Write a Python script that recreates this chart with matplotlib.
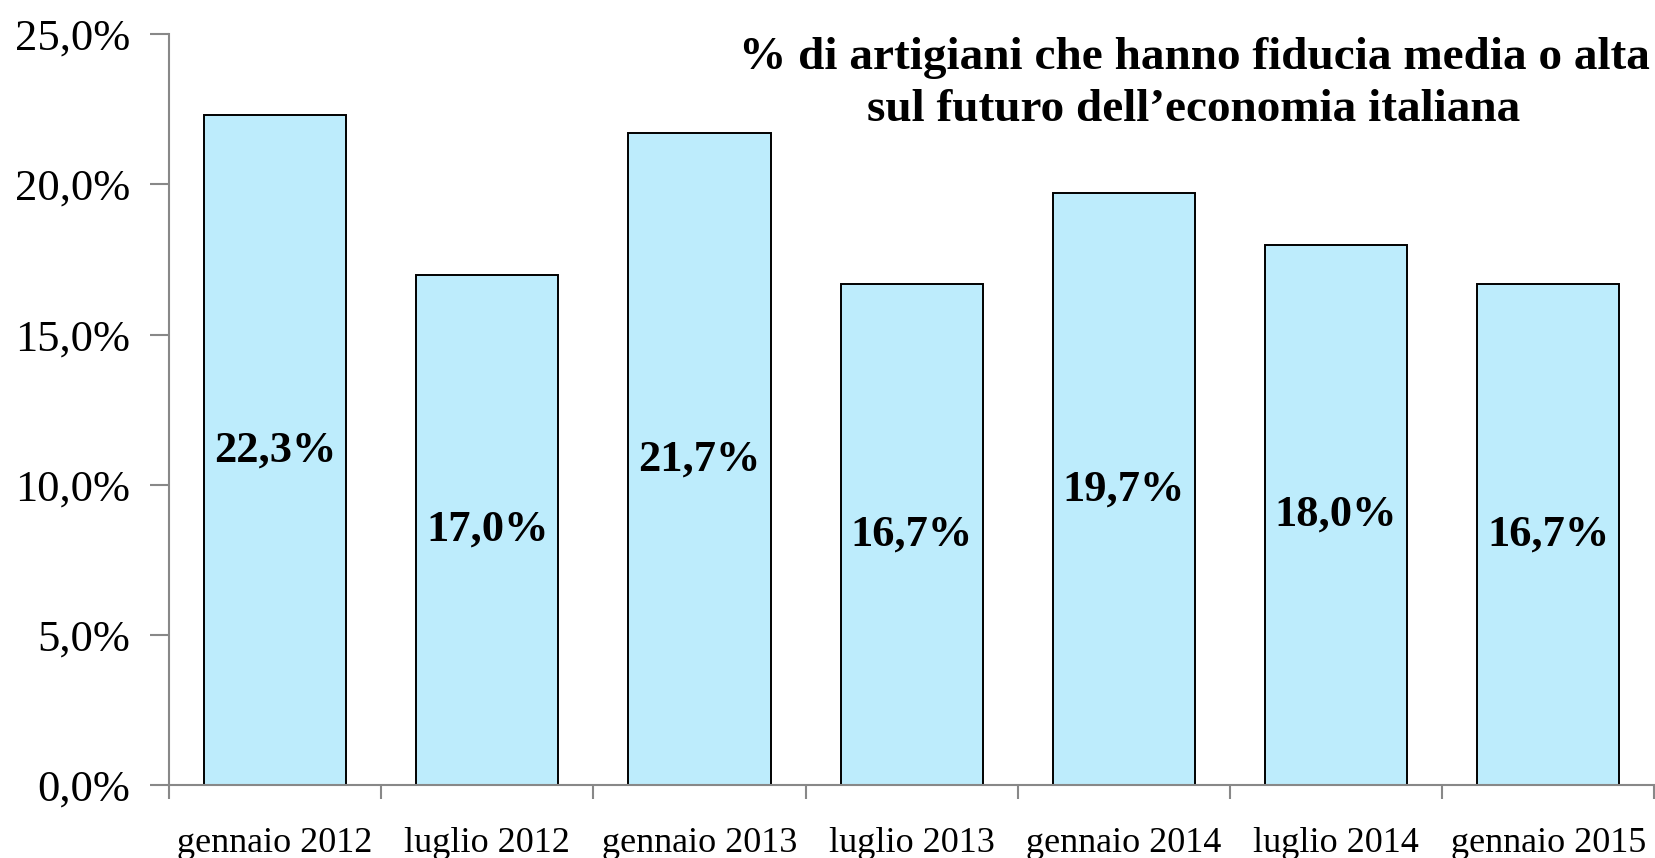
import matplotlib.pyplot as plt
import numpy as np

plt.rcParams['font.family'] = ['Liberation Serif', 'DejaVu Serif']

# dati
categories = ['gennaio 2012', 'luglio 2012', 'gennaio 2013', 'luglio 2013',
              'gennaio 2014', 'luglio 2014', 'gennaio 2015']
values = [22.3, 17.0, 21.7, 16.7, 19.7, 18.0, 16.7]
y_ticks = [0, 5, 10, 15, 20, 25]

title = "% di artigiani che hanno fiducia media o alta\nsul futuro dell\u2019economia italiana"

fig = plt.figure(figsize=(16.56, 8.58), dpi=100)
ax = fig.add_axes([0.102, 0.085, 0.897, 0.875])

x = np.arange(len(categories))
ax.bar(x, values, width=0.67, color='#BDECFC', edgecolor='black', linewidth=1.4, zorder=2)

for xi, v in zip(x, values):
    ax.text(xi, v / 2, f'{v:.1f}%'.replace('.', ','), ha='center', va='center',
            fontsize=32, fontweight='bold', color='black')

ax.set_xlim(-0.5, len(categories) - 0.5)
ax.set_ylim(0, 25)
ax.set_yticks(y_ticks)
ax.set_yticklabels([f'{t:.1f}%'.replace('.', ',') for t in y_ticks], fontsize=32)

# tick principali ai confini delle categorie, etichette al centro
ax.set_xticks(np.arange(-0.5, len(categories), 1.0))
ax.set_xticklabels([])
ax.set_xticks(x, minor=True)
ax.set_xticklabels(categories, minor=True, fontsize=26)
ax.tick_params(axis='x', which='minor', length=0, pad=30)
ax.tick_params(axis='x', which='major', length=10, color='#888888', width=1.5)
ax.tick_params(axis='y', length=14, color='#888888', width=1.5, pad=14)

for s in ['top', 'right']:
    ax.spines[s].set_visible(False)
for s in ['left', 'bottom']:
    ax.spines[s].set_color('#888888')
    ax.spines[s].set_linewidth(1.5)

fig.text(0.721, 0.902, title, ha='center', va='center', fontsize=34,
         fontweight='bold', linespacing=1.3)

fig.savefig('out.png', dpi=100)
